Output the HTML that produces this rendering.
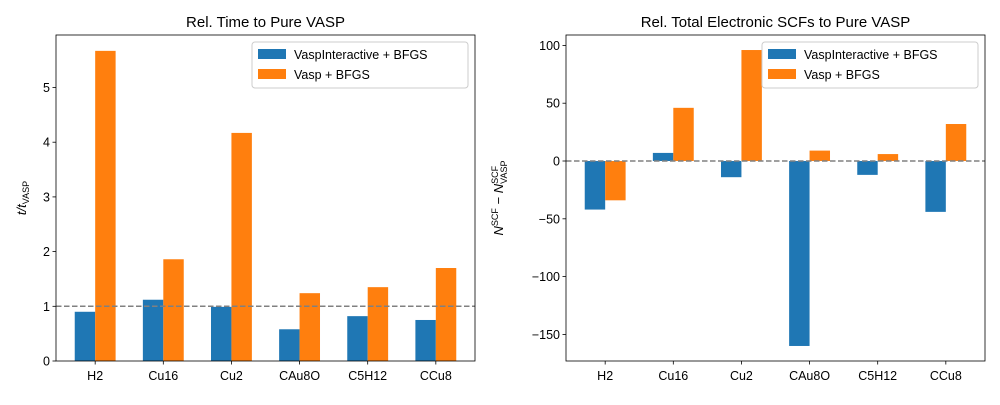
<!DOCTYPE html>
<html><head><meta charset="utf-8"><style>
body{margin:0;background:#fff}
svg{font-family:"Liberation Sans","DejaVu Sans",sans-serif}
</style></head><body>
<svg id="c" width="1000" height="400"></svg>
<script>
const categories=["H2","Cu16","Cu2","CAu8O","C5H12","CCu8"];
const timeInteractive=[0.9,1.12,0.99,0.58,0.82,0.75];
const timeVasp=[5.67,1.86,4.17,1.24,1.35,1.70];
const scfInteractive=[-42,7,-14,-160,-12,-44];
const scfVasp=[-34,46,96,9,6,32];
const timeTicks=[0,1,2,3,4,5];
const scfTicks=[-150,-100,-50,0,50,100];
const seriesNames=["VaspInteractive + BFGS","Vasp + BFGS"];
const colors=["#1f77b4","#ff7f0e"];
const svg=document.getElementById('c');
const NS="http://www.w3.org/2000/svg";
function mk(tag,attrs,parent){const e=document.createElementNS(NS,tag);for(const k in attrs)e.setAttribute(k,attrs[k]);(parent||svg).appendChild(e);return e;}
function panel(p){
  const g=mk('g',{});
  
  
  const L=p.x0,R=p.x1,T=35,B=361;
  const xs=i=>L+(i+0.575)/6.15*(R-L);
  const ys=v=>B-(v-p.ymin)/(p.ymax-p.ymin)*(B-T);
  const bw=0.3/6.15*(R-L);
  [p.a,p.b].forEach((arr,s)=>{
    arr.forEach((v,i)=>{
      const x=xs(i)+(s===0?-bw:0);
      const y0=ys(0),y1=ys(v);
      const r=mk('rect',{x:x,y:Math.min(y0,y1),width:bw,height:Math.abs(y1-y0),fill:colors[s]},g);
      
      
    });
  });
  const ref=mk('line',{x1:L,x2:R,y1:ys(p.refv),y2:ys(p.refv),stroke:'#808080','stroke-width':1.5,'stroke-dasharray':'5.5,2.5'},g);
  
  
  mk('rect',{x:L,y:T,width:R-L,height:B-T,fill:'none',stroke:'#000','stroke-width':0.8},g);
  p.ticks.forEach(t=>{
    const y=ys(t);
    mk('line',{x1:L-3.5,x2:L,y1:y,y2:y,stroke:'#000','stroke-width':0.8},g);
    const tx=mk('text',{x:L-6,y:y+4.5,'text-anchor':'end','font-size':12.5},g);tx.textContent=String(t).replace('-','\u2212');
    
    
  });
  categories.forEach((c,i)=>{
    const x=xs(i);
    mk('line',{x1:x,x2:x,y1:B,y2:B+3.5,stroke:'#000','stroke-width':0.8},g);
    const tx=mk('text',{x:x,y:B+19,'text-anchor':'middle','font-size':12.5},g);tx.textContent=c;
    
    
  });
  const ti=mk('text',{x:(L+R)/2,y:27,'text-anchor':'middle','font-size':15},g);ti.textContent=p.title;
  
  
  const yl=mk('text',{transform:`translate(${p.ylx},198) rotate(-90)`,'text-anchor':'middle','font-size':13,'font-style':'italic'},g);
  yl.innerHTML=p.ylabel;
  
  
  const lg=mk('g',{},g);
  
  
  const lx=R-223,ly=42;
  mk('rect',{x:lx,y:ly,width:216,height:46,rx:3,fill:'#fff','fill-opacity':0.8,stroke:'#ccc'},lg);
  seriesNames.forEach((n,s)=>{
    mk('rect',{x:lx+6,y:ly+7+s*20,width:28,height:10,fill:colors[s]},lg);
    const t=mk('text',{x:lx+42,y:ly+17+s*20,'font-size':12.5},lg);t.textContent=n;
    
    
  });
}
panel({name:'time-chart',x0:56,x1:475,ymin:0,ymax:5.96,a:timeInteractive,b:timeVasp,ticks:timeTicks,refv:1,title:'Rel. Time to Pure VASP',ylx:26,ylabel:'t/t<tspan font-size="9" dy="3" font-style="normal">VASP</tspan>'});
panel({name:'scf-chart',x0:566,x1:985,ymin:-173,ymax:109,a:scfInteractive,b:scfVasp,ticks:scfTicks,refv:0,title:'Rel. Total Electronic SCFs to Pure VASP',ylx:503,ylabel:'N<tspan font-size="9" dy="-5" font-style="normal">SCF</tspan><tspan dy="5"> \u2212 N</tspan><tspan font-size="9" dy="-5" font-style="normal">SCF</tspan><tspan font-size="9" dx="-18" dy="9" font-style="normal">VASP</tspan>'});
</script>
</body></html>
